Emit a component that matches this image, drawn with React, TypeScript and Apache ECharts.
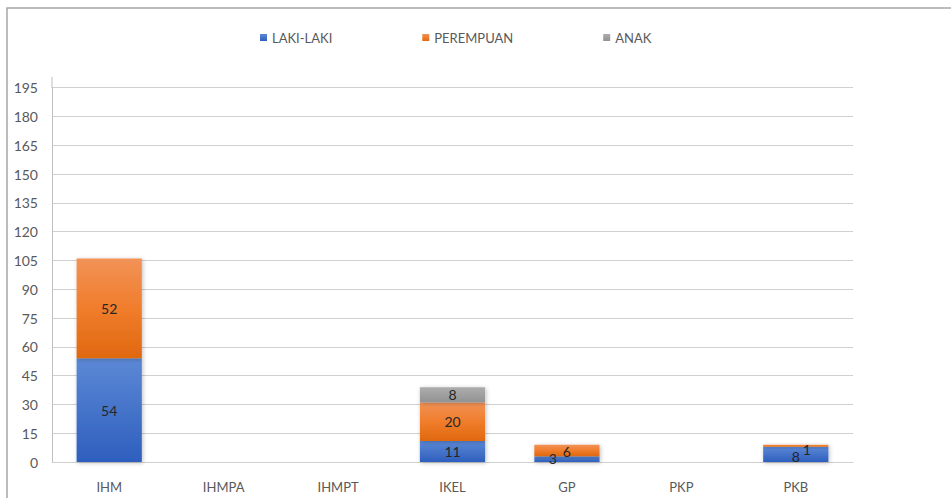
import React, { useEffect, useRef } from "react";
import * as echarts from "echarts";

const categories = ["IHM", "IHMPA", "IHMPT", "IKEL", "GP", "PKP", "PKB"];
const lakiLaki = [54, null, null, 11, 3, null, 8];
const perempuan = [52, null, null, 20, 6, null, 1];
const anak = [null, null, null, 8, null, null, null];
const seriesNames = ["LAKI-LAKI", "PEREMPUAN", "ANAK"];

const FONT = "Lato";

const labelOffsets: Record<string, Record<number, number[]>> = {
  "LAKI-LAKI": { 4: [-14, -1], 6: [0, 2] },
  PEREMPUAN: { 4: [0, 1], 6: [11, 4] },
  ANAK: {},
};

function grad(stops: [number, string][]) {
  return new echarts.graphic.LinearGradient(
    0, 0, 0, 1,
    stops.map(([offset, color]) => ({ offset, color }))
  );
}

export default function App() {
  const ref = useRef<HTMLDivElement>(null);
  useEffect(() => {
    document.body.style.margin = "0";
    const chart = echarts.init(ref.current!, null, { renderer: "svg" });
    const colors = [
      grad([[0, "#5c88d5"], [1, "#2e5fbe"]]),
      grad([[0, "#f29257"], [0.5, "#f07d2c"], [1, "#e0680f"]]),
      grad([[0, "#adadad"], [1, "#929292"]]),
    ];
    const datasets = [lakiLaki, perempuan, anak];
    const series = seriesNames.map((name, si) => ({
      name,
      type: "bar",
      stack: "total",
      barWidth: "57%",
      itemStyle: {
        color: colors[si],
        shadowColor: "rgba(0,0,0,0.25)",
        shadowBlur: 4,
        shadowOffsetX: 1,
        shadowOffsetY: 1,
      },
      label: {
        show: true,
        position: "inside",
        color: "#262626",
        fontFamily: FONT,
        fontSize: 14,
      },
      data: datasets[si].map((v, i) => {
        const off = labelOffsets[name][i];
        if (v == null) return null;
        return off ? { value: v, label: { offset: off } } : v;
      }),
    }));
    chart.setOption({
      animation: false,
      textStyle: { fontFamily: FONT },
      legend: {
        left: 255,
        top: 26,
        itemWidth: 7,
        itemHeight: 7,
        itemGap: 90,
        icon: "rect",
        data: seriesNames,
        textStyle: { color: "#595959", fontSize: 13, fontFamily: FONT },
      },
      grid: { left: 52, right: 98, top: 87.7, bottom: 36 },
      xAxis: {
        type: "category",
        data: categories,
        axisLine: { show: true, lineStyle: { color: "#d0d0d0", width: 1 } },
        axisTick: { show: false },
        axisLabel: { color: "#595959", fontSize: 13, fontFamily: FONT, margin: 18 },
      },
      yAxis: {
        type: "value",
        min: 0,
        max: 195,
        interval: 15,
        axisLine: { show: true, lineStyle: { color: "#bfbfbf", width: 1 } },
        axisTick: { show: false },
        axisLabel: { color: "#595959", fontSize: 14, fontFamily: FONT, margin: 14 },
        splitLine: { lineStyle: { color: "#d0d0d0", width: 1 } },
      },
      graphic: [
        {
          type: "polyline",
          shape: { points: [[951, 8], [7, 8], [7, 498]] },
          style: { stroke: "#a6a6a6", lineWidth: 1.5, fill: "none" },
          silent: true,
        },
        {
          type: "line",
          shape: { x1: 52, y1: 77, x2: 52, y2: 88 },
          style: { stroke: "#bfbfbf", lineWidth: 1 },
          silent: true,
        },
      ],
      series,
    });
    return () => chart.dispose();
  }, []);
  return <div ref={ref} style={{ width: 951, height: 498 }} />;
}
